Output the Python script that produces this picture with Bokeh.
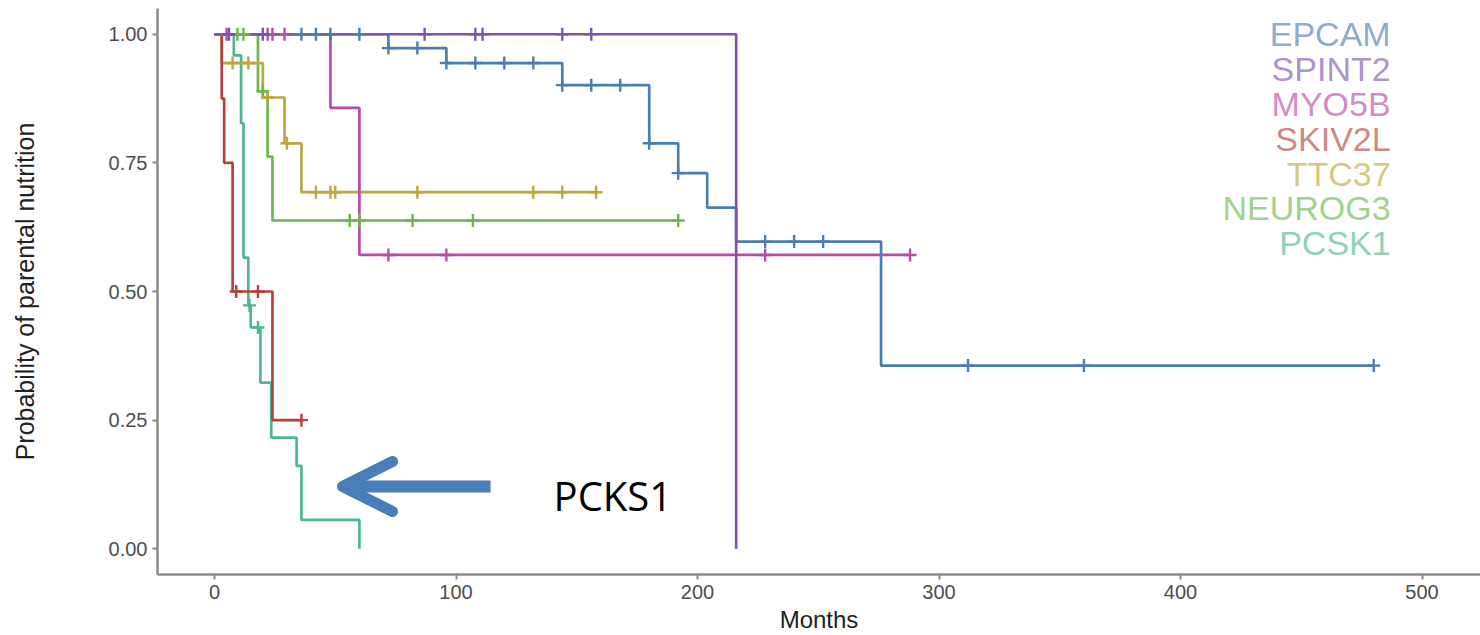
from bokeh.plotting import figure
from bokeh.models import Range1d, FixedTicker, NumeralTickFormatter, Arrow, OpenHead, Label, ColumnDataSource
from bokeh.core.properties import value
from bokeh.embed import file_html
from bokeh.resources import INLINE

genes = ["EPCAM", "SPINT2", "MYO5B", "SKIV2L", "TTC37", "NEUROG3", "PCSK1"]
colors = ["#4A7DB0", "#7D52B5", "#BA4AA5", "#B5413C", "#BBA73E", "#6DB64C", "#4DB88F"]

# event times (months) and survival after each step
epcam_t = [0, 72, 96, 144, 180, 192, 204, 216, 276]
epcam_s = [1.0, 0.973, 0.944, 0.901, 0.788, 0.730, 0.663, 0.597, 0.356]
epcam_end = 480
epcam_c = [36, 42, 48, 60, 72, 84, 96, 108, 120, 132, 144, 156, 168, 180, 192, 228, 240, 252, 312, 360, 480]

spint2_t = [0, 216]
spint2_s = [1.0, 0.0]
spint2_end = 216
spint2_c = [6, 20, 87, 108, 111, 144, 156]

myo5b_t = [0, 48, 60]
myo5b_s = [1.0, 0.857, 0.571]
myo5b_end = 288
myo5b_c = [5, 22, 24, 29, 72, 96, 228, 288]

skiv2l_t = [0, 3, 4, 7.5, 24]
skiv2l_s = [1.0, 0.875, 0.75, 0.5, 0.25]
skiv2l_end = 36
skiv2l_c = [9, 18, 36]

ttc37_t = [0, 3, 20, 29, 36]
ttc37_s = [1.0, 0.944, 0.877, 0.788, 0.693]
ttc37_end = 158
ttc37_c = [7.5, 14, 22, 30, 42, 48, 50, 84, 132, 144, 158]

neurog3_t = [0, 18, 22, 24]
neurog3_s = [1.0, 0.889, 0.762, 0.638]
neurog3_end = 192
neurog3_c = [9.5, 12, 20, 56, 60, 82, 107, 192]

pcsk1_t = [0, 8, 11, 12, 14, 15, 19, 23.5, 34, 36, 60]
pcsk1_s = [1.0, 0.959, 0.827, 0.566, 0.473, 0.43, 0.323, 0.216, 0.161, 0.056, 0.0]
pcsk1_end = 60
pcsk1_c = [14.5, 18]

x_ticks = [0, 100, 200, 300, 400, 500]
y_ticks = [0.0, 0.25, 0.5, 0.75, 1.0]

series = {
    "EPCAM": (epcam_t, epcam_s, epcam_end, epcam_c),
    "SPINT2": (spint2_t, spint2_s, spint2_end, spint2_c),
    "MYO5B": (myo5b_t, myo5b_s, myo5b_end, myo5b_c),
    "SKIV2L": (skiv2l_t, skiv2l_s, skiv2l_end, skiv2l_c),
    "TTC37": (ttc37_t, ttc37_s, ttc37_end, ttc37_c),
    "NEUROG3": (neurog3_t, neurog3_s, neurog3_end, neurog3_c),
    "PCSK1": (pcsk1_t, pcsk1_s, pcsk1_end, pcsk1_c),
}
color_of = dict(zip(genes, colors))

FONT = "Liberation Sans"

p = figure(width=1480, height=635, x_range=Range1d(-23.6, 524.2), y_range=Range1d(-0.05, 1.05),
           output_backend="svg", toolbar_location=None,
           min_border_left=157, min_border_right=0, min_border_top=8, min_border_bottom=61)
p.outline_line_color = None
p.xgrid.visible = False
p.ygrid.visible = False
p.background_fill_color = "white"

for ax in (p.xaxis[0], p.yaxis[0]):
    ax.axis_line_color = "#8a8a8a"
    ax.axis_line_width = 2.5
    ax.major_tick_line_color = "#8a8a8a"
    ax.major_tick_line_width = 2
    ax.major_tick_in = 0
    ax.major_tick_out = 5
    ax.minor_tick_line_color = None
    ax.major_label_text_font = FONT
    ax.major_label_text_color = "#4d4d4d"
    ax.major_label_text_font_size = "20px"
    ax.axis_label_text_font = FONT
    ax.axis_label_text_font_style = "normal"
    ax.axis_label_text_color = "#222222"
    ax.major_label_standoff = 5

p.xaxis.ticker = FixedTicker(ticks=x_ticks)
p.yaxis.ticker = FixedTicker(ticks=y_ticks)
p.yaxis.formatter = NumeralTickFormatter(format="0.00")
p.xaxis.axis_label = "Months"
p.yaxis.axis_label = "Probability of parental nutrition"
p.xaxis.axis_label_text_font_size = "24px"
p.yaxis.axis_label_text_font_size = "25px"
p.xaxis.axis_label_standoff = 4
p.yaxis.axis_label_standoff = 67

draw_order = ["PCSK1", "NEUROG3", "TTC37", "SKIV2L", "MYO5B", "EPCAM", "SPINT2"]


def surv_at(ts, ss, t):
    v = ss[0]
    for ti, si in zip(ts, ss):
        if ti <= t:
            v = si
    return v


for g in draw_order:
    ts, ss, end, cs = series[g]
    xs = list(ts)
    ys = list(ss)
    if end > xs[-1]:
        xs.append(end)
        ys.append(ss[-1])
    p.step(xs, ys, mode="after", line_color=color_of[g], line_width=2.7)

for g in draw_order:
    ts, ss, end, cs = series[g]
    cy = [surv_at(ts, ss, c) for c in cs]
    p.scatter(cs, cy, marker="cross", size=13, line_color=color_of[g], line_width=2.4)

# legend as coloured text
leg_x = 487
leg_y0 = 1.0
leg_dy = 0.0677
src = ColumnDataSource(dict(x=[leg_x] * len(genes),
                            y=[leg_y0 - i * leg_dy for i in range(len(genes))],
                            text=genes, color=colors))
p.text(x="x", y="y", text="text", text_color="color", source=src, text_align="right",
       text_baseline="middle", text_font=value(FONT), text_font_size="34px", text_alpha=0.65)

# annotation arrow + label
p.add_layout(Arrow(end=OpenHead(size=50, line_color="#4A7EBB", line_width=11, line_join="round", line_cap="round"),
                   x_start=114.3, y_start=0.121, x_end=53.0, y_end=0.121,
                   line_color="#4A7EBB", line_width=12))
p.add_layout(Label(x=140.4, y=0.104, text="PCKS1", text_font="Open Sans", text_font_size="40px",
                   text_color="black", text_baseline="middle", text_align="left"))

open("out.html", "w").write(file_html(p, INLINE))
